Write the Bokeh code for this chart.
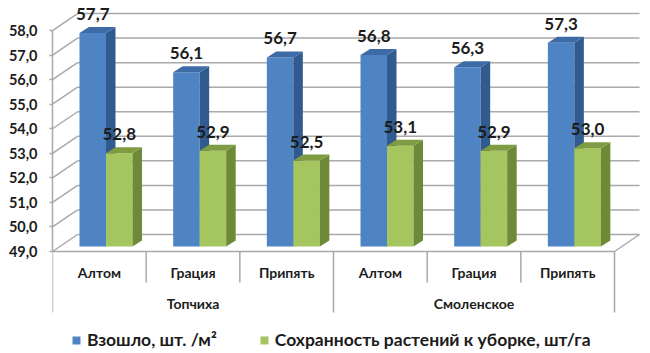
from bokeh.plotting import figure
from bokeh.models import Range1d, FixedTicker, Legend, LegendItem, ColumnDataSource
from bokeh.core.properties import value
from bokeh.embed import file_html
from bokeh.resources import INLINE

varieties = ["Алтом", "Грация", "Припять", "Алтом", "Грация", "Припять"]
locations = ["Топчиха", "Смоленское"]
sprouted = [57.7, 56.1, 56.7, 56.8, 56.3, 57.3]
preserved = [52.8, 52.9, 52.5, 53.1, 52.9, 53.0]
y_ticks = [49, 50, 51, 52, 53, 54, 55, 56, 57, 58]
y_labels = ["49,0", "50,0", "51,0", "52,0", "53,0", "54,0", "55,0", "56,0", "57,0", "58,0"]
series_names = ["Взошло, шт. /м²", "Сохранность растений к уборке, шт/га"]

FONT = "Lato"
INK = "#1c1c1c"
GRID = "#a9a9a9"
W, H = 650, 353
LEFT = 52                 # frame starts here inside the figure
PX_X = 93.67              # pixels per category
PX_Y = 24.55              # pixels per value unit
BASE_PX = 251             # figure-pixel row of value 49


def dx(px):
    return px / PX_X


def dy(px):
    return px / PX_Y


p = figure(width=W, height=H, output_backend="svg", toolbar_location=None,
           x_axis_location=None, min_border_left=LEFT, min_border_right=0,
           min_border_top=0, min_border_bottom=0,
           x_range=Range1d(0, dx(W - LEFT)),
           y_range=Range1d(49 - dy(H - BASE_PX), 49 + dy(BASE_PX)))
p.grid.visible = False
p.outline_line_color = None
p.background_fill_color = "white"
p.border_fill_color = "white"

# value axis
ax = p.yaxis[0]
ax.ticker = FixedTicker(ticks=y_ticks)
ax.major_label_overrides = {t: l for t, l in zip(y_ticks, y_labels)}
ax.bounds = (49, 58)
ax.axis_line_color = GRID
ax.axis_line_width = 1.5
ax.major_tick_line_color = GRID
ax.major_tick_line_width = 1.5
ax.major_tick_in = 0
ax.major_tick_out = 3
ax.minor_tick_line_color = None
ax.major_label_standoff = 12
ax.major_label_text_font = FONT
ax.major_label_text_font_style = "bold"
ax.major_label_text_font_size = "14.5px"
ax.major_label_text_color = INK

# walls and floor
WALL_X, WALL_Y = dx(25), dy(17)
n = len(varieties)
p.segment([0] * len(y_ticks), y_ticks, [WALL_X] * len(y_ticks), [t + WALL_Y for t in y_ticks],
          line_color=GRID, line_width=1.5)
p.segment([WALL_X] * len(y_ticks), [t + WALL_Y for t in y_ticks],
          [n + WALL_X] * len(y_ticks), [t + WALL_Y for t in y_ticks],
          line_color=GRID, line_width=1.5)
p.segment([0, n], [49, 49], [n, n + WALL_X], [49, 49 + WALL_Y], line_color=GRID, line_width=1.5)

# category dividers
p.segment(list(range(n + 1)), [49] * (n + 1), list(range(n + 1)),
          [49 - dy(61) if i % 3 == 0 else 49 - dy(31) for i in range(n + 1)],
          line_color=GRID, line_width=1.5)

# bars
FLOOR = 49 + dy(5)
BAR_L, BAR_W = dx(27), dx(26.5)
DEPTH_X, DEPTH_Y = dx(9.5), dy(6)


def draw(values, left_off, front, side, top):
    lefts = [i + left_off for i in range(n)]
    rights = [l + BAR_W for l in lefts]
    tops = [FLOOR + (v - 49) for v in values]
    r = p.quad(left=lefts, right=rights, bottom=[FLOOR] * n, top=tops, fill_color=front, line_color=None)
    p.patches([[a, a + DEPTH_X, a + DEPTH_X, a] for a in rights],
              [[FLOOR, FLOOR + DEPTH_Y, t + DEPTH_Y, t] for t in tops],
              fill_color=side, line_color=None)
    p.patches([[l, l + DEPTH_X, a + DEPTH_X, a] for l, a in zip(lefts, rights)],
              [[t, t + DEPTH_Y, t + DEPTH_Y, t] for t in tops],
              fill_color=top, line_color=None)
    return r, [(l + a) / 2 for l, a in zip(lefts, rights)], tops


blue, bx, bt = draw(sprouted, BAR_L, "#4f84c4", "#315a8e", "#3c6ba6")
green, gx, gt = draw(preserved, BAR_L + BAR_W, "#a5c55f", "#6e8a38", "#7f9c42")

# data labels
for xs, ts, vals in ((bx, bt, sprouted), (gx, gt, preserved)):
    src = ColumnDataSource(dict(x=xs, y=[t + dy(19) for t in ts],
                                t=[f"{v:.1f}".replace(".", ",") for v in vals]))
    p.text("x", "y", text="t", source=src, text_align="center", text_baseline="middle",
           text_font=value(FONT), text_font_style="bold", text_font_size="17px", text_color=INK)

# category labels
p.text([i + 0.5 for i in range(n)], [49 - dy(21)] * n, text=varieties,
       text_align="center", text_baseline="middle", text_font=value(FONT),
       text_font_style="bold", text_font_size="14px", text_color=INK)
p.text([1.5, 4.5], [49 - dy(52)] * 2, text=locations,
       text_align="center", text_baseline="middle", text_font=value(FONT),
       text_font_style="bold", text_font_size="14px", text_color=INK)

legend = Legend(items=[LegendItem(label=series_names[0], renderers=[blue]),
                       LegendItem(label=series_names[1], renderers=[green])],
                orientation="horizontal", location=(19, 3),
                glyph_width=10, glyph_height=10, label_standoff=6, spacing=42,
                padding=0, margin=0, border_line_color=None, background_fill_alpha=0,
                label_text_font=FONT, label_text_font_style="bold",
                label_text_font_size="17.5px", label_text_color=INK)
p.add_layout(legend, "center")

open("out.html", "w").write(file_html(p, INLINE))
